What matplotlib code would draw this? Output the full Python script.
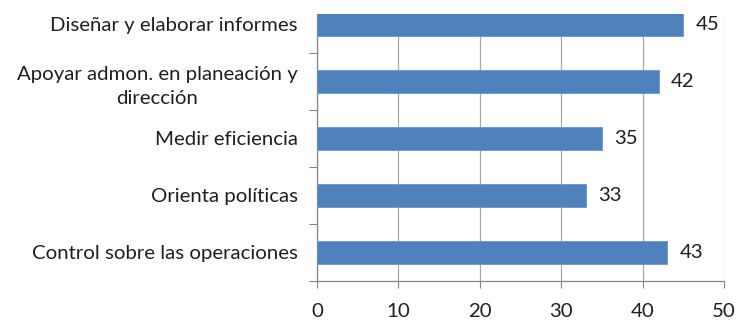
import matplotlib

matplotlib.use("Agg")
import matplotlib.pyplot as plt

# categories listed bottom -> top, as the axis draws them
categories = [
    "Control sobre las operaciones",
    "Orienta políticas",
    "Medir eficiencia",
    "Apoyar admon. en planeación y\ndirección",
    "Diseñar y elaborar informes",
]
values = [43, 33, 35, 42, 45]
xticks = [0, 10, 20, 30, 40, 50]

BAR = "#4F81BD"
AXIS = "#868686"
GRID = "#A6A6A6"
TXT = "#1F1F1F"
FS = 14.7

plt.rcParams["font.family"] = ["Lato", "DejaVu Sans"]

fig = plt.figure(figsize=(7.37, 3.2), dpi=100)
# axes box in pixel terms: x 317..724, y 14..281 (from the top)
W, H = 737, 320
ax = fig.add_axes([317 / W, (H - 281) / H, (724 - 317) / W, (281 - 14) / H])

pos = list(range(len(categories)))
ax.barh(pos, values, height=0.4, color=BAR, edgecolor="#6A95C9", linewidth=0.6, zorder=3)
for y, v in zip(pos, values):
    ax.text(v + 1.5, y, str(v), va="center", ha="left", fontsize=FS, color=TXT)

ax.set_xlim(0, 50)
ax.set_ylim(-0.5, 4.184)
ax.set_xticks(xticks)
ax.set_xticklabels([str(t) for t in xticks], fontsize=FS, color=TXT)
ax.tick_params(axis="x", direction="out", length=5, color=AXIS, pad=11)
ax.grid(axis="x", color=GRID, lw=0.9, zorder=0)

# category separators as y ticks, labels as minor ticks at bar centres
ax.set_yticks([p - 0.5 for p in pos])
ax.set_yticklabels([])
ax.tick_params(axis="y", which="major", direction="out", length=6, color=AXIS)
ax.set_yticks(pos, minor=True)
ax.set_yticklabels(categories, minor=True, fontsize=FS, color=TXT,
                   multialignment="center", linespacing=1.5)
ax.tick_params(axis="y", which="minor", length=0, pad=14)

for s in ["top", "right"]:
    ax.spines[s].set_visible(False)
for s in ["left", "bottom"]:
    ax.spines[s].set_color(AXIS)
    ax.spines[s].set_linewidth(0.9)

fig.savefig("out.png", dpi=100)
